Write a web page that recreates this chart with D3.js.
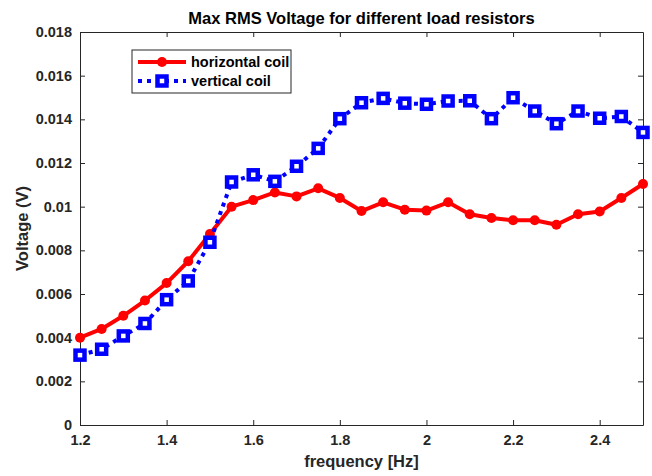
<!DOCTYPE html>
<html>
<head>
<meta charset="utf-8">
<script src="https://cdn.jsdelivr.net/npm/d3@7"></script>
<style>
  body { margin: 0; background: #fff; }
  text { font-family: 'Liberation Sans', Arial, sans-serif; font-weight: bold; fill: #262626; }
</style>
</head>
<body>
<div id="chart"></div>
<script>
// frequency steps (Hz)
const frequency = [1.2, 1.25, 1.3, 1.35, 1.4, 1.45, 1.5, 1.55, 1.6, 1.65, 1.7, 1.75, 1.8, 1.85,
  1.9, 1.95, 2.0, 2.05, 2.1, 2.15, 2.2, 2.25, 2.3, 2.35, 2.4, 2.45, 2.5]
// max RMS voltage per coil (V)
const horizontalCoil = [0.0040, 0.0044, 0.0050, 0.0057, 0.0065, 0.0075, 0.00875, 0.0100, 0.0103, 0.01065,
  0.01047, 0.01084, 0.0104, 0.0098, 0.0102, 0.00986, 0.00982, 0.0102, 0.00965, 0.00948,
  0.00938, 0.00938, 0.00917, 0.00965, 0.00978, 0.0104, 0.01104]
const verticalCoil = [0.0032, 0.00347, 0.00408, 0.00465, 0.00574, 0.0066, 0.00837, 0.01113, 0.01146, 0.01116,
  0.01185, 0.01267, 0.01403, 0.01476, 0.01496, 0.01474, 0.01469, 0.01484, 0.01485, 0.01403,
  0.01499, 0.01438, 0.0138, 0.01438, 0.01405, 0.01413, 0.0134]
const xTicks = [1.2, 1.4, 1.6, 1.8, 2, 2.2, 2.4]
const yTicks = [0, 0.002, 0.004, 0.006, 0.008, 0.01, 0.012, 0.014, 0.016, 0.018]

const W = 652
const H = 476
const margin = { top: 32, right: 9, bottom: 51, left: 80 }
const width = W - margin.left - margin.right
const height = H - margin.top - margin.bottom

const svg = d3.select('#chart').append('svg')
  .attr('width', W)
  .attr('height', H)

const g = svg.append('g')
  .attr('transform', `translate(${margin.left},${margin.top})`)

const xScale = d3.scaleLinear().domain([1.2, 2.5]).range([0, width])
const yScale = d3.scaleLinear().domain([0, 0.018]).range([height, 0])

// Axes with inward ticks (MATLAB style)
const axisColor = '#262626'
const xAxis = g.append('g')
  .attr('transform', `translate(0,${height})`)
  .call(d3.axisBottom(xScale).tickValues(xTicks).tickSizeInner(-5).tickSizeOuter(0).tickPadding(10).tickFormat(d => String(d)))
const yAxis = g.append('g')
  .call(d3.axisLeft(yScale).tickValues(yTicks).tickSizeInner(-5).tickSizeOuter(0).tickPadding(8).tickFormat(d => String(d)))
const xTop = g.append('g')
  .call(d3.axisTop(xScale).tickValues(xTicks).tickSizeInner(-5).tickSizeOuter(0).tickFormat(''))
const yRight = g.append('g')
  .attr('transform', `translate(${width},0)`)
  .call(d3.axisRight(yScale).tickValues(yTicks).tickSizeInner(-5).tickSizeOuter(0).tickFormat(''))

;[xAxis, yAxis, xTop, yRight].forEach(a => {
  a.select('.domain').attr('stroke', axisColor).attr('stroke-width', 1)
  a.selectAll('.tick line').attr('stroke', axisColor)
  a.selectAll('.tick text')
    .style('font-size', '14.5px')
    .style('font-family', "'Liberation Sans', Arial, sans-serif")
    .style('font-weight', 'bold')
    .attr('fill', axisColor)
})

// Horizontal coil: solid red line with circles
const line = d3.line()
  .x((d, i) => xScale(frequency[i]))
  .y(d => yScale(d))

g.append('path')
  .datum(horizontalCoil)
  .attr('d', line)
  .attr('fill', 'none')
  .attr('stroke', '#ff0000')
  .attr('stroke-width', 4)
  .attr('stroke-linejoin', 'round')

g.selectAll('.hc')
  .data(horizontalCoil)
  .join('circle')
  .attr('class', 'hc')
  .attr('cx', (d, i) => xScale(frequency[i]))
  .attr('cy', d => yScale(d))
  .attr('r', 5)
  .attr('fill', '#ff0000')

// Vertical coil: dotted blue line with squares
g.append('path')
  .datum(verticalCoil)
  .attr('d', line)
  .attr('fill', 'none')
  .attr('stroke', '#0000ff')
  .attr('stroke-width', 4)
  .attr('stroke-dasharray', '4,5')

const sq = 9
g.selectAll('.vc')
  .data(verticalCoil)
  .join('rect')
  .attr('class', 'vc')
  .attr('x', (d, i) => xScale(frequency[i]) - sq / 2)
  .attr('y', d => yScale(d) - sq / 2)
  .attr('width', sq)
  .attr('height', sq)
  .attr('fill', '#fff')
  .attr('stroke', '#0000ff')
  .attr('stroke-width', 4.5)

// Title and axis labels
svg.append('text')
  .attr('x', margin.left + width / 2)
  .attr('y', 24)
  .attr('text-anchor', 'middle')
  .style('font-size', '16.5px')
  .style('fill', '#000')
  .text('Max RMS Voltage for different load resistors')

svg.append('text')
  .attr('x', margin.left + width / 2)
  .attr('y', 467)
  .attr('text-anchor', 'middle')
  .style('font-size', '16.5px')
  .text('frequency [Hz]')

svg.append('text')
  .attr('transform', `translate(28,${margin.top + height / 2}) rotate(-90)`)
  .attr('text-anchor', 'middle')
  .style('font-size', '16.5px')
  .text('Voltage (V)')

// Legend
const legend = svg.append('g').attr('transform', 'translate(132,50)')
legend.append('rect')
  .attr('width', 159)
  .attr('height', 43)
  .attr('fill', '#fff')
  .attr('stroke', '#262626')
  .attr('stroke-width', 1)

legend.append('line')
  .attr('x1', 6).attr('x2', 54).attr('y1', 12).attr('y2', 12)
  .attr('stroke', '#ff0000').attr('stroke-width', 4)
legend.append('circle')
  .attr('cx', 30).attr('cy', 12).attr('r', 5).attr('fill', '#ff0000')
legend.append('text')
  .attr('x', 59).attr('y', 17)
  .style('font-size', '14.5px')
  .style('fill', '#000')
  .text('horizontal coil')

legend.append('line')
  .attr('x1', 6).attr('x2', 54).attr('y1', 31).attr('y2', 31)
  .attr('stroke', '#0000ff').attr('stroke-width', 4).attr('stroke-dasharray', '4,5')
legend.append('rect')
  .attr('x', 30 - sq / 2).attr('y', 31 - sq / 2).attr('width', sq).attr('height', sq)
  .attr('fill', '#fff').attr('stroke', '#0000ff').attr('stroke-width', 4.5)
legend.append('text')
  .attr('x', 59).attr('y', 36)
  .style('font-size', '14.5px')
  .style('fill', '#000')
  .text('vertical coil')
</script>
</body>
</html>
